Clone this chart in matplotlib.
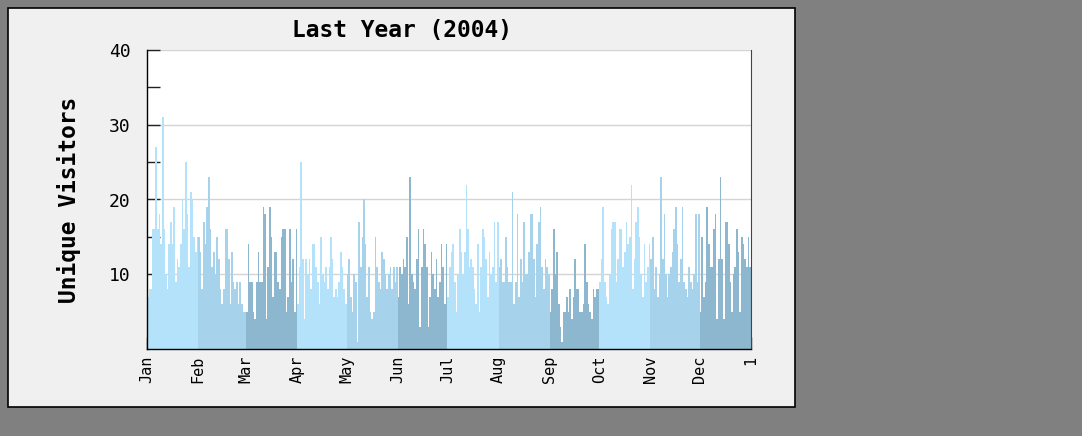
import matplotlib

matplotlib.use("Agg")
import matplotlib.pyplot as plt
from matplotlib.patches import Rectangle
import numpy as np

MONTHS = ["Jan", "Feb", "Mar", "Apr", "May", "Jun",
          "Jul", "Aug", "Sep", "Oct", "Nov", "Dec"]
TICK_LABELS = MONTHS + ["1"]

# daily unique visitors, 2004 (leap year)
jan = [7, 8, 8, 16, 16, 27, 16, 18, 14, 31, 16, 10, 8, 14, 17, 14, 19, 9, 12, 11,
       14, 20, 16, 25, 18, 11, 21, 20, 15, 13, 15]
feb = [15, 13, 8, 17, 14, 19, 23, 16, 11, 13, 10, 15, 12, 8, 6, 8, 16, 16, 12, 6,
       13, 9, 8, 9, 6, 9, 6, 5, 5]
mar = [5, 14, 9, 9, 5, 4, 9, 13, 9, 9, 19, 18, 4, 11, 19, 15, 7, 13, 13, 9,
       8, 15, 16, 16, 5, 7, 16, 9, 12, 5, 16]
apr = [6, 11, 25, 12, 4, 12, 10, 12, 8, 14, 14, 11, 9, 6, 15, 10, 9, 11, 8, 11,
       15, 12, 7, 8, 7, 9, 13, 11, 8, 6]
may = [10, 12, 7, 5, 10, 9, 1, 17, 11, 15, 20, 14, 7, 11, 5, 4, 5, 15, 11, 9,
       8, 13, 12, 10, 8, 10, 11, 8, 11, 9, 11]
jun = [7, 11, 10, 12, 11, 15, 6, 23, 10, 9, 8, 12, 16, 3, 11, 16, 14, 11, 3, 7,
       13, 10, 8, 12, 7, 9, 14, 11, 6, 14]
jul = [7, 11, 13, 14, 9, 5, 10, 16, 13, 10, 13, 22, 16, 11, 12, 11, 8, 6, 14, 5,
       11, 16, 15, 12, 7, 13, 10, 11, 17, 9, 17]
aug = [11, 12, 9, 9, 15, 11, 9, 9, 21, 6, 9, 18, 7, 12, 9, 17, 10, 10, 13, 18,
       18, 12, 7, 14, 17, 19, 11, 8, 12, 11, 10]
sep = [5, 8, 16, 10, 13, 6, 3, 1, 5, 5, 7, 5, 8, 4, 7, 12, 8, 8, 5, 5,
       6, 14, 9, 6, 5, 4, 8, 7, 8, 8]
oct_ = [9, 12, 19, 9, 7, 6, 10, 16, 17, 17, 9, 12, 16, 16, 11, 13, 17, 14, 15, 22,
        8, 12, 17, 19, 15, 10, 7, 14, 9, 11, 14]
nov = [12, 15, 8, 11, 7, 10, 23, 12, 18, 10, 7, 10, 11, 13, 16, 19, 14, 9, 12, 19,
       9, 8, 7, 11, 9, 8, 10, 18, 9, 18]
dec = [5, 15, 7, 9, 19, 14, 11, 11, 16, 18, 4, 12, 23, 12, 4, 17, 17, 14, 9, 5,
       10, 11, 16, 13, 5, 15, 14, 12, 11, 15, 11]

month_data = [jan, feb, mar, apr, may, jun, jul, aug, sep, oct_, nov, dec]
shades = ["#b3e2fa", "#a6d3eb", "#8db7cf"]

fig = plt.figure(figsize=(10.82, 4.36), dpi=100)
fig.patch.set_facecolor("#808080")
W, H = 1082, 436

# light panel with black frame, kept behind the axes
fig.patches.append(Rectangle((8 / W, 1 - 407 / H), (795 - 8) / W, (407 - 8) / H,
                             transform=fig.transFigure, facecolor="#f0f0f0",
                             edgecolor="black", linewidth=1.2, zorder=-1))

ax = fig.add_axes([147 / W, 1 - 349 / H, (751 - 147) / W, (349 - 50) / H])
ax.set_facecolor("white")

start = 0
month_starts = [0]
for i, vals in enumerate(month_data):
    x = np.arange(start, start + len(vals)) + 0.5
    ax.bar(x, vals, width=1.0, color=shades[i % 3], linewidth=0, zorder=2)
    start += len(vals)
    month_starts.append(start)

ax.set_xlim(0, start)
ax.set_ylim(0, 40)
ax.set_yticks([10, 20, 30, 40])
ax.set_yticks([5, 15, 25, 35], minor=True)
ax.set_xticks(month_starts)
ax.set_xticklabels(TICK_LABELS, rotation=90, family="DejaVu Sans Mono", fontsize=11)
for lbl in ax.get_yticklabels():
    lbl.set_family("DejaVu Sans Mono")
    lbl.set_fontsize(13)
ax.tick_params(axis="both", which="both", direction="in", length=9, width=1,
               color="#222222")
ax.tick_params(axis="x", pad=5)
ax.tick_params(axis="y", pad=12)
ax.yaxis.grid(True, color="#d4d4d4", linewidth=1, zorder=1)
ax.set_axisbelow(True)

for side in ["left", "bottom"]:
    ax.spines[side].set_color("black")
    ax.spines[side].set_linewidth(1)
ax.spines["right"].set_color("#444444")
ax.spines["top"].set_visible(False)

ax.set_ylabel("Unique Visitors", family="DejaVu Sans Mono", fontweight="bold",
              fontsize=16.5, labelpad=20)
fig.text(402 / W, 1 - 30 / H, "Last Year (2004)", ha="center", va="center",
         family="DejaVu Sans Mono", fontweight="bold", fontsize=16.5)

fig.savefig("out.png", dpi=100, facecolor=fig.get_facecolor())
